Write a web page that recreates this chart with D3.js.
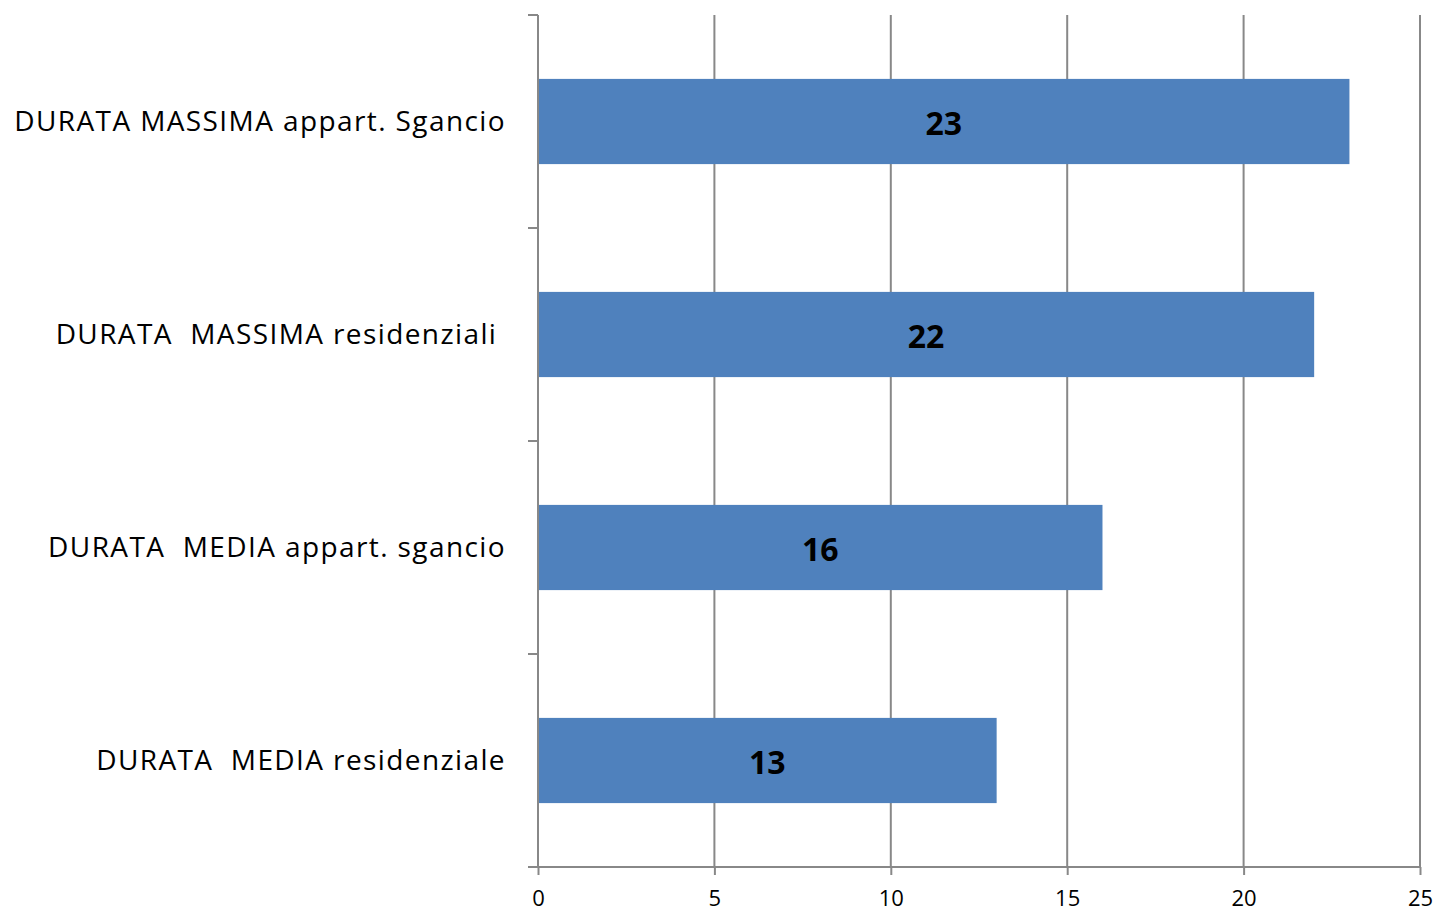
<!DOCTYPE html>
<html><head><meta charset="utf-8">
<script src="https://cdn.jsdelivr.net/npm/d3@7"></script>
<style>
html,body{margin:0;padding:0;background:#fff;}
text{white-space:pre;}
</style></head>
<body>
<svg id="chart" width="1436" height="913"></svg>
<script>
const categories = ["DURATA MASSIMA appart. Sgancio", "DURATA  MASSIMA residenziali ", "DURATA  MEDIA appart. sgancio", "DURATA  MEDIA residenziale"];
const values = [23, 22, 16, 13];
const xTicks = [0, 5, 10, 15, 20, 25];

const svg = d3.select("#chart");
const m = {left: 538, right: 1420, top: 15, bottom: 867};
const font = "'Open Sans', sans-serif";
const x = d3.scaleLinear().domain([0, 25]).range([m.left, m.right]);
const y = d3.scaleBand().domain(categories).range([m.top, m.bottom]).paddingInner(0.6).paddingOuter(0.3);
const band = d3.scaleBand().domain(categories).range([m.top, m.bottom]);

// gridlines
svg.append("g").selectAll("line").data(xTicks.slice(1)).join("line")
  .attr("x1", d => x(d)).attr("x2", d => x(d))
  .attr("y1", m.top).attr("y2", m.bottom)
  .attr("stroke", "#888").attr("stroke-width", 2);

// bars
svg.append("g").selectAll("rect").data(values).join("rect")
  .attr("x", x(0)).attr("y", (d, i) => y(categories[i]))
  .attr("width", d => x(d) - x(0)).attr("height", y.bandwidth())
  .attr("fill", "#4F81BD");

// x axis
const xAxis = svg.append("g").attr("transform", `translate(0,${m.bottom})`)
  .call(d3.axisBottom(x).tickValues(xTicks).tickSize(8).tickPadding(15).tickSizeOuter(0));
xAxis.select(".domain").attr("stroke", "#888").attr("stroke-width", 2).attr("d", `M${m.left - 10},0H${m.right}`);
xAxis.selectAll(".tick line").attr("stroke", "#888").attr("stroke-width", 2);
xAxis.selectAll(".tick text").attr("font-family", font).attr("font-size", 22).attr("fill", "#000");

// y axis
const yAxis = svg.append("g").attr("transform", `translate(${m.left},0)`);
yAxis.append("line").attr("x1", 0).attr("x2", 0).attr("y1", m.top).attr("y2", m.bottom)
  .attr("stroke", "#888").attr("stroke-width", 2);
const yTickPos = categories.map(c => band(c)).concat([m.bottom]);
yAxis.selectAll("line.t").data(yTickPos).join("line").attr("class", "t")
  .attr("x1", -10).attr("x2", 0).attr("y1", d => d).attr("y2", d => d)
  .attr("stroke", "#888").attr("stroke-width", 2);
yAxis.selectAll("text").data(categories).join("text")
  .attr("x", -32).attr("y", d => band(d) + band.bandwidth() / 2)
  .attr("dy", "0.35em").attr("text-anchor", "end")
  .attr("font-family", font).attr("font-size", 28).attr("letter-spacing", "1.4px").attr("fill", "#000")
  .text(d => d);

// data labels
svg.append("g").selectAll("text").data(values).join("text")
  .attr("x", d => (x(0) + x(d)) / 2)
  .attr("y", (d, i) => y(categories[i]) + y.bandwidth() / 2 + 2)
  .attr("dy", "0.35em").attr("text-anchor", "middle")
  .attr("font-family", font).attr("font-size", 32).attr("font-weight", "bold").attr("fill", "#000")
  .text(d => d);
</script>
</body></html>
